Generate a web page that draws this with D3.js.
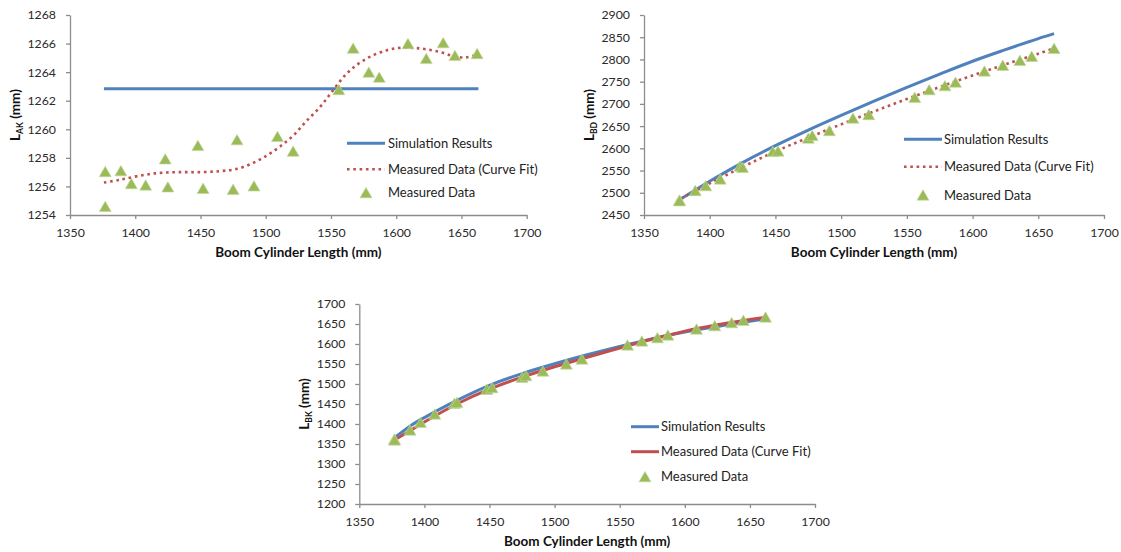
<!DOCTYPE html>
<html><head><meta charset="utf-8">
<script src="https://cdn.jsdelivr.net/npm/d3@7"></script>
<style>
body{margin:0;background:#fff;}
svg{display:block;font-family:Lato,"Open Sans",sans-serif;}
</style></head><body>
<svg id="c" width="1121" height="552"></svg>
<script>
// ---- data ----
const boomLength = [1377,1377,1389,1397,1408,1423,1425,1448,1452,1475,1478,1491,1509,1521,1556,1567,1579,1587,1609,1623,1636,1645,1662];
const lakMeasured = [1257.04,1254.6,1257.1,1256.2,1256.1,1257.93,1255.97,1258.87,1255.87,1255.8,1259.27,1256.04,1259.5,1258.47,1262.78,1265.68,1264.0,1263.65,1266.0,1264.96,1266.06,1265.17,1265.3];
const lbdMeasured = [2484,2482,2505,2516,2531,2560,2557,2593,2594,2623,2629,2640,2668,2676,2715,2732,2741,2749,2774,2787,2798,2807,2825];
const lbkMeasured = [1362.5,1360,1385,1404,1425,1451.7,1454,1486.7,1491,1516.7,1521,1532.5,1550,1562.5,1597.5,1607.5,1615.8,1622.5,1637.5,1645.8,1653.3,1659.2,1667.5];

const lakSimX = [1376,1663];
const lakSimY = [1262.83,1262.83];
const lakFitX = [1376,1388,1404,1419,1434,1450,1465,1478,1490,1501,1511,1521,1531,1542,1552,1562,1572,1582,1593,1603,1613,1623,1634,1644,1653,1662];
const lakFitY = [1256.27,1256.46,1256.76,1256.95,1257.0,1257.0,1257.07,1257.23,1257.63,1258.17,1258.8,1259.55,1260.56,1261.6,1262.78,1263.9,1264.65,1265.17,1265.54,1265.7,1265.7,1265.6,1265.4,1265.12,1265.03,1265.24];

const lbdSimX = [1378,1400,1425,1450,1475,1500,1525,1550,1575,1600,1625,1650,1662];
const lbdSimY = [2486,2526,2568,2606,2641,2674,2706,2737,2767,2796,2822,2847,2858];
const lbdFitX = [1378,1400,1425,1450,1475,1500,1525,1550,1575,1600,1625,1650,1660];
const lbdFitY = [2487,2521,2558,2593,2624,2654,2683,2711,2738,2764,2789,2813,2823];

const lbkSimX = [1378,1390,1400,1425,1450,1475,1500,1525,1550,1575,1600,1625,1650,1661];
const lbkSimY = [1368,1397,1416,1459,1496.5,1526,1550.5,1573,1594,1613.5,1630,1644,1657,1662];
const lbkFitX = [1377,1390,1400,1425,1450,1475,1500,1525,1550,1575,1600,1625,1650,1662];
const lbkFitY = [1360,1385,1405,1450,1487,1517,1543,1567,1590,1612,1632,1648,1661,1667];

const xTicks = [1350,1400,1450,1500,1550,1600,1650,1700];
const lakTicks = [1254,1256,1258,1260,1262,1264,1266,1268];
const lbdTicks = [2450,2500,2550,2600,2650,2700,2750,2800,2850,2900];
const lbkTicks = [1200,1250,1300,1350,1400,1450,1500,1550,1600,1650,1700];

const legendLabels = ["Simulation Results","Measured Data (Curve Fit)","Measured Data"];
const xTitle = "Boom Cylinder Length (mm)";

const BLUE = "#4F81BD", RED = "#C0504D", GREEN = "#9BBB59", AXIS = "#8c8c8c";
const svg = d3.select("#c");

function drawChart(cfg){
  const g = svg.append("g");
  const x = d3.scaleLinear().domain([xTicks[0], xTicks[xTicks.length-1]]).range([cfg.left, cfg.right]);
  const y = d3.scaleLinear().domain([cfg.yTicks[0], cfg.yTicks[cfg.yTicks.length-1]]).range([cfg.bottom, cfg.top]);

  const xa = g.append("g").attr("transform", `translate(0,${cfg.bottom})`)
    .call(d3.axisBottom(x).tickValues(xTicks).tickSize(4).tickSizeOuter(0).tickPadding(9).tickFormat(d3.format("d")));
  const ya = g.append("g").attr("transform", `translate(${cfg.left},0)`)
    .call(d3.axisLeft(y).tickValues(cfg.yTicks).tickSize(4).tickSizeOuter(0).tickPadding(10).tickFormat(d3.format("d")));
  [xa, ya].forEach(a => {
    a.select(".domain").attr("stroke", AXIS).attr("stroke-width", 1.3);
    a.selectAll(".tick line").attr("stroke", AXIS).attr("stroke-width", 1.3);
    a.selectAll(".tick text").attr("fill", "#2a2a2a").style("font-size", "12.3px").style("font-family", "Lato");
  });

  const line = d3.line().x(d => x(d[0])).y(d => y(d[1])).curve(d3.curveCatmullRom.alpha(0.5));
  const simPts = d3.zip(cfg.simX, cfg.simY);
  const fitPts = d3.zip(cfg.fitX, cfg.fitY);

  g.append("path").attr("d", line(simPts)).attr("fill", "none")
    .attr("stroke", BLUE).attr("stroke-width", 3);
  const fit = g.append("path").attr("d", line(fitPts)).attr("fill", "none")
    .attr("stroke", RED).attr("stroke-width", cfg.dotted ? 2.6 : 3);
  if (cfg.dotted) fit.attr("stroke-dasharray", "2.6 3.7");

  const tri = d3.symbol().type(d3.symbolTriangle).size(62);
  const triOff = 1.7; // align bounding-box centre with the data point
  g.selectAll("path.pt").data(d3.zip(boomLength, cfg.measured)).join("path")
    .attr("class", "pt").attr("d", tri)
    .attr("transform", d => `translate(${x(d[0])},${y(d[1]) + triOff})`)
    .attr("fill", GREEN).attr("stroke", "#c3d69b").attr("stroke-width", 0.6);

  // legend
  const L = cfg.legend;
  g.append("line").attr("x1", L.x1).attr("x2", L.x2).attr("y1", L.rows[0]).attr("y2", L.rows[0])
    .attr("stroke", BLUE).attr("stroke-width", 3);
  const ll = g.append("line").attr("x1", L.x1).attr("x2", L.x2).attr("y1", L.rows[1]).attr("y2", L.rows[1])
    .attr("stroke", RED).attr("stroke-width", cfg.dotted ? 2.6 : 3);
  if (cfg.dotted) ll.attr("stroke-dasharray", "2.6 3.7");
  g.append("path").attr("d", tri).attr("transform", `translate(${(L.x1+L.x2)/2},${L.rows[2] + triOff})`)
    .attr("fill", GREEN).attr("stroke", "#c3d69b").attr("stroke-width", 0.6);
  legendLabels.forEach((t, i) => {
    g.append("text").attr("x", L.tx).attr("y", L.rows[i]).attr("dy", "0.35em")
      .attr("fill", "#222").style("font-size", "13px").text(t);
  });

  // axis titles
  g.append("text").attr("x", (cfg.left + cfg.right) / 2).attr("y", cfg.bottom + 42)
    .attr("text-anchor", "middle").attr("font-weight", "bold").attr("fill", "#111")
    .style("font-size", "13.5px").text(xTitle);
  const yt = g.append("text")
    .attr("transform", `translate(${cfg.left - 55},${(cfg.top + cfg.bottom) / 2}) rotate(-90)`)
    .attr("text-anchor", "middle").attr("dy", "0.35em").attr("font-weight", "bold").attr("fill", "#111")
    .style("font-size", "13.5px");
  yt.append("tspan").text("L");
  yt.append("tspan").attr("dy", 3).style("font-size", "8.5px").text(cfg.sub);
  yt.append("tspan").attr("dy", -3).text(" (mm)");
}

drawChart({left:70, right:526.7, top:15, bottom:215, yTicks:lakTicks, measured:lakMeasured,
  simX:lakSimX, simY:lakSimY, fitX:lakFitX, fitY:lakFitY, dotted:true, sub:"AK",
  legend:{x1:347, x2:385, tx:388, rows:[143.3,169.3,192.7]}});
drawChart({left:644, right:1104, top:15, bottom:215, yTicks:lbdTicks, measured:lbdMeasured,
  simX:lbdSimX, simY:lbdSimY, fitX:lbdFitX, fitY:lbdFitY, dotted:true, sub:"BD",
  legend:{x1:904, x2:942, tx:944, rows:[139.3,166.7,195]}});
drawChart({left:359.3, right:815, top:304, bottom:504, yTicks:lbkTicks, measured:lbkMeasured,
  simX:lbkSimX, simY:lbkSimY, fitX:lbkFitX, fitY:lbkFitY, dotted:false, sub:"BK",
  legend:{x1:631, x2:659, tx:661, rows:[426.7,451.7,476.7]}});
</script>
</body></html>
